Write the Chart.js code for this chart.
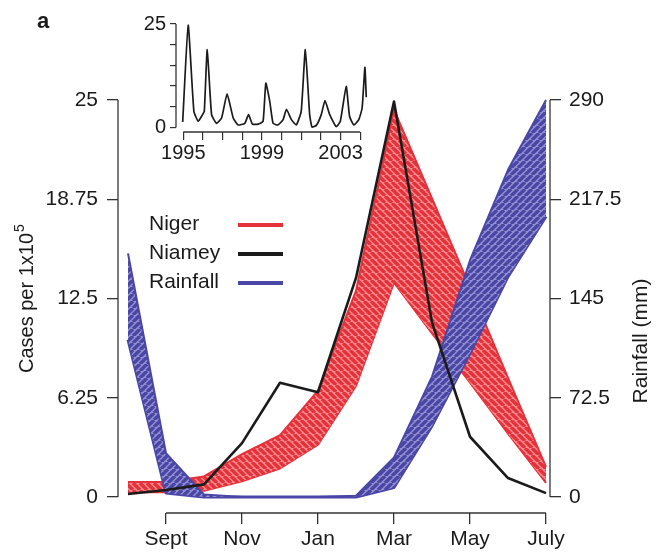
<!DOCTYPE html>
<html>
<head>
<meta charset="utf-8">
<script src="https://cdn.jsdelivr.net/npm/chart.js@4.4.0/dist/chart.umd.min.js"></script>
<style>
  html, body { margin: 0; padding: 0; background: #fff; }
  #wrap { position: relative; width: 659px; height: 552px; }
  #mainChart, #insetChart { position: absolute; left: 0; top: 0; }
</style>
</head>
<body>
<div id="wrap">
  <canvas id="mainChart" width="659" height="552"></canvas>
  <canvas id="insetChart" width="400" height="170"></canvas>
</div>
<script>
// Month positions on the x axis (Aug .. July = 0 .. 11)
const months = ['Aug', 'Sept', 'Oct', 'Nov', 'Dec', 'Jan', 'Feb', 'Mar', 'Apr', 'May', 'Jun', 'July'];
const monthTicks = ['Sept', 'Nov', 'Jan', 'Mar', 'May', 'July'];
const caseTicks = [0, 6.25, 12.5, 18.75, 25];
const rainTicks = [0, 72.5, 145, 217.5, 290];

// Cases per 1x10^5
const niamey = [0.2, 0.45, 0.8, 3.4, 7.2, 6.6, 13.8, 24.9, 11.0, 3.8, 1.2, 0.25];
const nigerUpper = [0.95, 0.95, 1.3, 2.7, 3.9, 6.7, 13.0, 24.4, 18.8, 13.2, 7.5, 1.9];
const nigerLower = [0.3, 0.3, 0.4, 1.0, 1.8, 3.3, 7.0, 13.5, 10.3, 7.2, 4.0, 0.9];

// Rainfall (mm)
const rainUpper = [178, 32, 2, 0, 0, 0, 1, 29, 88, 173, 239, 290];
const rainLower = [115, 3, 0, 0, 0, 0, 0, 7, 52, 105, 161, 205];

// Inset: Niamey cases 1995-2004
const insetYears = [1994.97, 1995.25, 1995.54, 1995.76, 1995.98, 1996.07, 1996.22, 1996.44, 1996.69, 1996.95,
  1997.23, 1997.54, 1997.79, 1998.13, 1998.32, 1998.52, 1998.81, 1999.06, 1999.2, 1999.4,
  1999.57, 1999.82, 2000.08, 2000.25, 2000.5, 2000.75, 2001.0, 2001.21, 2001.43, 2001.55,
  2001.77, 2002.02, 2002.21, 2002.45, 2002.78, 2002.99, 2003.29, 2003.46, 2003.68, 2003.93,
  2004.1, 2004.24, 2004.31];
const insetCases = [1.3, 24.7, 3.9, 1.5, 3.1, 3.9, 18.8, 3.1, 1.0, 2.3,
  8.1, 2.3, 0.6, 1.0, 3.1, 0.8, 0.8, 1.5, 10.7, 6.3,
  1.0, 0.6, 1.9, 4.4, 1.9, 0.6, 3.9, 18.8, 3.1, 0.1,
  0.5, 3.1, 6.5, 3.1, 0.2, 1.5, 9.9, 2.7, 0.6, 1.9,
  4.7, 14.5, 7.3];
const insetYTicks = [0, 5, 10, 15, 20, 25];
const insetXTicks = [1995, 1996, 1997, 1998, 1999, 2000, 2001, 2002, 2003, 2004];
const insetLabeled = [1995, 1999, 2003];

const legendNames = ['Niger', 'Niamey', 'Rainfall'];

const FONT = "'Liberation Sans', Arial, Helvetica, sans-serif";
const textColor = '#1a1a1a';
const axisColor = '#333333';
const red = '#e5323a', redLight = '#f28a8e';
const blue = '#4a46a6', blueLight = '#928fcf';
const black = '#1b1b1b';
const legendColors = [red, black, blue];

Chart.defaults.font.family = FONT;
Chart.defaults.font.size = 21;
Chart.defaults.color = textColor;

function toXY(values) {
    return values.map((v, i) => ({ x: i, y: v }));
}

// diagonal hatch used for the model envelopes
function hatch(bg, fg, dir) {
    const s = 7;
    const c = document.createElement('canvas');
    c.width = s; c.height = s;
    const g = c.getContext('2d');
    g.fillStyle = bg;
    g.fillRect(0, 0, s, s);
    g.strokeStyle = fg;
    g.lineWidth = 3.4;
    g.beginPath();
    for (let k = -1; k <= 1; k++) {
        if (dir > 0) { g.moveTo(k * s, s); g.lineTo(k * s + s, 0); }
        else { g.moveTo(k * s, 0); g.lineTo(k * s + s, s); }
    }
    g.stroke();
    return g.createPattern(c, 'repeat');
}

// R-style axis lines: only from first to last tick
const rAxes = {
    id: 'rAxes',
    afterDraw(chart) {
        const ctx = chart.ctx;
        ctx.save();
        ctx.strokeStyle = axisColor;
        ctx.lineWidth = 1.3;
        Object.values(chart.scales).forEach(s => {
            const t = s.ticks;
            if (!t.length) return;
            const a = s.getPixelForValue(t[0].value);
            const b = s.getPixelForValue(t[t.length - 1].value);
            ctx.beginPath();
            if (s.isHorizontal()) { ctx.moveTo(a, s.top); ctx.lineTo(b, s.top); }
            else if (s.position === 'left') { ctx.moveTo(s.right, a); ctx.lineTo(s.right, b); }
            else { ctx.moveTo(s.left, a); ctx.lineTo(s.left, b); }
            ctx.stroke();
        });
        ctx.restore();
    }
};

// panel letter, axis titles and legend
const annotations = {
    id: 'annotations',
    afterDraw(chart) {
        const ctx = chart.ctx;
        ctx.save();
        ctx.fillStyle = textColor;
        ctx.textBaseline = 'alphabetic';
        ctx.textAlign = 'left';
        ctx.font = `bold 22px ${FONT}`;
        ctx.fillText('a', 37, 28);

        ctx.font = `20px ${FONT}`;
        ctx.save();
        ctx.translate(33, 373);
        ctx.rotate(-Math.PI / 2);
        ctx.fillText('Cases per 1x10', 0, 0);
        const w = ctx.measureText('Cases per 1x10').width;
        ctx.font = `14px ${FONT}`;
        ctx.fillText('5', w + 1, -9);
        ctx.restore();

        ctx.font = `21px ${FONT}`;
        ctx.save();
        ctx.translate(647, 341);
        ctx.rotate(-Math.PI / 2);
        ctx.textAlign = 'center';
        ctx.fillText('Rainfall (mm)', 0, 0);
        ctx.restore();

        legendNames.forEach((name, i) => {
            const y = 230 + i * 29;
            ctx.fillStyle = textColor;
            ctx.fillText(name, 149, y);
            ctx.strokeStyle = legendColors[i];
            ctx.lineWidth = 4;
            ctx.beginPath();
            ctx.moveTo(238, y - 5);
            ctx.lineTo(283, y - 5);
            ctx.stroke();
        });
        ctx.restore();
    }
};

document.addEventListener('DOMContentLoaded', () => {
    const redHatch = hatch(redLight, red, -1);
    const blueHatch = hatch(blueLight, blue, 1);

    const tickGrid = { drawOnChartArea: false, tickLength: 11, color: axisColor, lineWidth: 1.3 };

    new Chart(document.getElementById('mainChart'), {
        type: 'line',
        data: {
            datasets: [
                { label: 'Niamey', data: toXY(niamey), yAxisID: 'y', borderColor: black, borderWidth: 2.6 },
                { label: 'Rainfall', data: toXY(rainUpper), yAxisID: 'y2', borderColor: blue, borderWidth: 2,
                  backgroundColor: blueHatch, fill: '+1' },
                { label: 'Rainfall low', data: toXY(rainLower), yAxisID: 'y2', borderColor: blue, borderWidth: 3 },
                { label: 'Niger', data: toXY(nigerUpper), yAxisID: 'y', borderColor: red, borderWidth: 2,
                  backgroundColor: redHatch, fill: '+1' },
                { label: 'Niger low', data: toXY(nigerLower), yAxisID: 'y', borderColor: red, borderWidth: 2 }
            ]
        },
        options: {
            responsive: false,
            animation: false,
            clip: false,
            elements: { point: { radius: 0 }, line: { tension: 0, fill: false, borderJoinStyle: 'round' } },
            layout: { padding: { top: 100, left: 0, right: 0, bottom: 0 } },
            plugins: { legend: { display: false }, tooltip: { enabled: false } },
            scales: {
                x: {
                    type: 'linear', min: -0.263, max: 11.105,
                    afterBuildTicks: s => { s.ticks = monthTicks.map(m => ({ value: months.indexOf(m) })); },
                    ticks: { callback: v => months[v], padding: 3, maxRotation: 0, autoSkip: false },
                    grid: tickGrid,
                    border: { display: false },
                    afterFit: s => { s.height = 39; }
                },
                y: {
                    position: 'left', min: -1.0, max: 25,
                    afterBuildTicks: s => { s.ticks = caseTicks.map(v => ({ value: v })); },
                    ticks: { callback: v => String(v), padding: 9, autoSkip: false },
                    grid: tickGrid,
                    border: { display: false },
                    afterFit: s => { s.width = 118; }
                },
                y2: {
                    position: 'right', min: -11.6, max: 290,
                    afterBuildTicks: s => { s.ticks = rainTicks.map(v => ({ value: v })); },
                    ticks: { callback: v => String(v), padding: 8, autoSkip: false },
                    grid: tickGrid,
                    border: { display: false },
                    afterFit: s => { s.width = 109; }
                }
            }
        },
        plugins: [rAxes, annotations]
    });

    new Chart(document.getElementById('insetChart'), {
        type: 'line',
        data: {
            datasets: [{
                label: 'Niamey 1995-2004',
                data: insetYears.map((yr, i) => ({ x: yr, y: insetCases[i] })),
                borderColor: black, borderWidth: 1.7, pointRadius: 0, tension: 0.15
            }]
        },
        options: {
            responsive: false,
            animation: false,
            clip: false,
            layout: { padding: { top: 24, right: 30, left: 0, bottom: 0 } },
            plugins: { legend: { display: false }, tooltip: { enabled: false } },
            scales: {
                x: {
                    type: 'linear', min: 1994.63, max: 2004.5,
                    afterBuildTicks: s => { s.ticks = insetXTicks.map(v => ({ value: v })); },
                    ticks: { font: { size: 20 }, padding: 1, maxRotation: 0, autoSkip: false,
                             callback: v => insetLabeled.includes(v) ? String(v) : '' },
                    grid: { drawOnChartArea: false, tickLength: 8, color: axisColor, lineWidth: 1.2 },
                    border: { display: false },
                    afterFit: s => { s.height = 38; }
                },
                y: {
                    min: -1.1, max: 25,
                    afterBuildTicks: s => { s.ticks = insetYTicks.map(v => ({ value: v })); },
                    ticks: { font: { size: 20 }, padding: 4, autoSkip: false,
                             callback: v => (v === 0 || v === 25) ? String(v) : '' },
                    grid: { drawOnChartArea: false, tickLength: 6, color: axisColor, lineWidth: 1.2 },
                    border: { display: false },
                    afterFit: s => { s.width = 176; }
                }
            }
        },
        plugins: [rAxes]
    });
});
</script>
</body>
</html>
